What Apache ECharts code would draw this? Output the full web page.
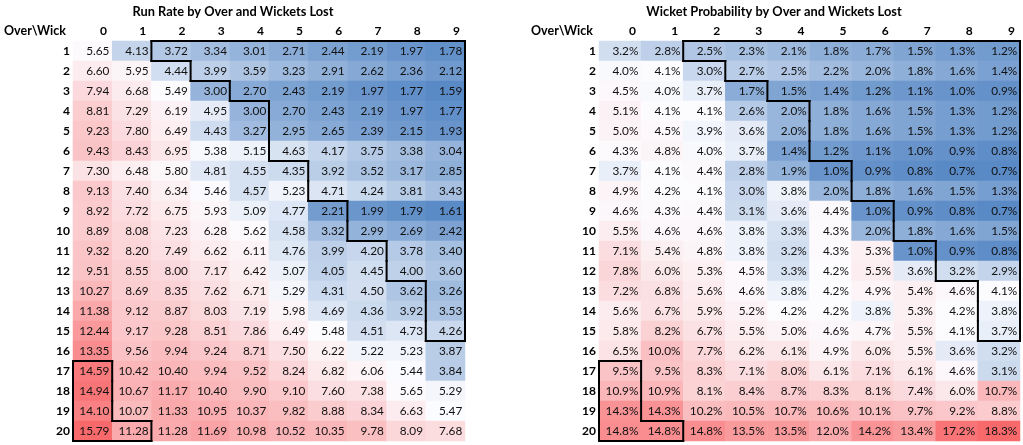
<!DOCTYPE html>
<html>
<head>
<meta charset="utf-8">
<script src="https://cdn.jsdelivr.net/npm/echarts@6/dist/echarts.min.js"></script>
<style>
html,body{margin:0;padding:0;background:#fff;}
#chart{width:1023px;height:445px;}
</style>
</head>
<body>
<div id="chart"></div>
<script>
const overs = ['1','2','3','4','5','6','7','8','9','10','11','12','13','14','15','16','17','18','19','20'];
const wickets = ['0','1','2','3','4','5','6','7','8','9'];

const runRate = [
  [5.65, 4.13, 3.72, 3.34, 3.01, 2.71, 2.44, 2.19, 1.97, 1.78],
  [6.60, 5.95, 4.44, 3.99, 3.59, 3.23, 2.91, 2.62, 2.36, 2.12],
  [7.94, 6.68, 5.49, 3.00, 2.70, 2.43, 2.19, 1.97, 1.77, 1.59],
  [8.81, 7.29, 6.19, 4.95, 3.00, 2.70, 2.43, 2.19, 1.97, 1.77],
  [9.23, 7.80, 6.49, 4.43, 3.27, 2.95, 2.65, 2.39, 2.15, 1.93],
  [9.43, 8.43, 6.95, 5.38, 5.15, 4.63, 4.17, 3.75, 3.38, 3.04],
  [7.30, 6.48, 5.80, 4.81, 4.55, 4.35, 3.92, 3.52, 3.17, 2.85],
  [9.13, 7.40, 6.34, 5.46, 4.57, 5.23, 4.71, 4.24, 3.81, 3.43],
  [8.92, 7.72, 6.75, 5.93, 5.09, 4.77, 2.21, 1.99, 1.79, 1.61],
  [8.89, 8.08, 7.23, 6.28, 5.62, 4.58, 3.32, 2.99, 2.69, 2.42],
  [9.32, 8.20, 7.49, 6.62, 6.11, 4.76, 3.99, 4.20, 3.78, 3.40],
  [9.51, 8.55, 8.00, 7.17, 6.42, 5.07, 4.05, 4.45, 4.00, 3.60],
  [10.27, 8.69, 8.35, 7.62, 6.71, 5.29, 4.31, 4.50, 3.62, 3.26],
  [11.38, 9.12, 8.87, 8.03, 7.19, 5.98, 4.69, 4.36, 3.92, 3.53],
  [12.44, 9.17, 9.28, 8.51, 7.86, 6.49, 5.48, 4.51, 4.73, 4.26],
  [13.35, 9.56, 9.94, 9.24, 8.71, 7.50, 6.22, 5.22, 5.23, 3.87],
  [14.59, 10.42, 10.40, 9.94, 9.52, 8.24, 6.82, 6.06, 5.44, 3.84],
  [14.94, 10.67, 11.17, 10.40, 9.90, 9.10, 7.60, 7.38, 5.65, 5.29],
  [14.10, 10.07, 11.33, 10.95, 10.37, 9.82, 8.88, 8.34, 6.63, 5.47],
  [15.79, 11.28, 11.28, 11.69, 10.98, 10.52, 10.35, 9.78, 8.09, 7.68]
];

const wicketProb = [
  [3.2, 2.8, 2.5, 2.3, 2.1, 1.8, 1.7, 1.5, 1.3, 1.2],
  [4.0, 4.1, 3.0, 2.7, 2.5, 2.2, 2.0, 1.8, 1.6, 1.4],
  [4.5, 4.0, 3.7, 1.7, 1.5, 1.4, 1.2, 1.1, 1.0, 0.9],
  [5.1, 4.1, 4.1, 2.6, 2.0, 1.8, 1.6, 1.5, 1.3, 1.2],
  [5.0, 4.5, 3.9, 3.6, 2.0, 1.8, 1.6, 1.5, 1.3, 1.2],
  [4.3, 4.8, 4.0, 3.7, 1.4, 1.2, 1.1, 1.0, 0.9, 0.8],
  [3.7, 4.1, 4.4, 2.8, 1.9, 1.0, 0.9, 0.8, 0.7, 0.7],
  [4.9, 4.2, 4.1, 3.0, 3.8, 2.0, 1.8, 1.6, 1.5, 1.3],
  [4.6, 4.3, 4.4, 3.1, 3.6, 4.4, 1.0, 0.9, 0.8, 0.7],
  [5.5, 4.6, 4.6, 3.8, 3.3, 4.3, 2.0, 1.8, 1.6, 1.5],
  [7.1, 5.4, 4.8, 3.8, 3.2, 4.3, 5.3, 1.0, 0.9, 0.8],
  [7.8, 6.0, 5.3, 4.5, 3.3, 4.2, 5.5, 3.6, 3.2, 2.9],
  [7.2, 6.8, 5.6, 4.6, 3.8, 4.2, 4.9, 5.4, 4.6, 4.1],
  [5.6, 6.7, 5.9, 5.2, 4.2, 4.2, 3.8, 5.3, 4.2, 3.8],
  [5.8, 8.2, 6.7, 5.5, 5.0, 4.6, 4.7, 5.5, 4.1, 3.7],
  [6.5, 10.0, 7.7, 6.2, 6.1, 4.9, 6.0, 5.5, 3.6, 3.2],
  [9.5, 9.5, 8.3, 7.1, 8.0, 6.1, 7.1, 6.1, 4.6, 3.1],
  [10.9, 10.9, 8.1, 8.4, 8.7, 8.3, 8.1, 7.4, 6.0, 10.7],
  [14.3, 14.3, 10.2, 10.5, 10.7, 10.6, 10.1, 9.7, 9.2, 8.8],
  [14.8, 14.8, 14.8, 13.5, 13.5, 12.0, 14.2, 13.4, 17.2, 18.3]
];

// Outlined block 1: for overs 1..15, first outlined wicket column (through 9)
const outlineStart = [2, 3, 4, 5, 5, 5, 6, 6, 7, 7, 8, 8, 9, 9, 9];
// Outlined block 2: [wicket index, over index]
const outlineCorner = [[0, 16], [0, 17], [0, 18], [0, 19], [1, 19]];

const FONT = 'Lato, "Open Sans", sans-serif';

function inRegion(x, y) {
  if (x < 0 || x > 9 || y < 0 || y > 19) return false;
  if (y < outlineStart.length && x >= outlineStart[y]) return true;
  return outlineCorner.some(c => c[0] === x && c[1] === y);
}

function outlineData() {
  const out = [];
  for (let y = 0; y < 20; y++) {
    for (let x = 0; x < 10; x++) {
      if (!inRegion(x, y)) continue;
      out.push([x, y,
        inRegion(x, y - 1) ? 0 : 1,
        inRegion(x + 1, y) ? 0 : 1,
        inRegion(x, y + 1) ? 0 : 1,
        inRegion(x - 1, y) ? 0 : 1]);
    }
  }
  return out;
}

function buildHeat(matrix) {
  const flat = [].concat(...matrix).slice().sort((a, b) => a - b);
  const mn = flat[0], mx = flat[flat.length - 1];
  const n = flat.length;
  const med = n % 2 ? flat[(n - 1) / 2] : (flat[n / 2 - 1] + flat[n / 2]) / 2;
  const data = [];
  matrix.forEach((row, i) => row.forEach((v, j) => {
    const t = v <= med ? 0.5 * (v - mn) / (med - mn) : 0.5 + 0.5 * (v - med) / (mx - med);
    data.push([j, i, v, t]);
  }));
  return data;
}

function renderOutline(params, api) {
  const c = api.coord([api.value(0), api.value(1)]);
  const s = api.size([1, 1]);
  const x0 = c[0] - s[0] / 2, x1 = c[0] + s[0] / 2;
  const y0 = c[1] - s[1] / 2, y1 = c[1] + s[1] / 2;
  const st = { stroke: '#000', lineWidth: 2, lineCap: 'square' };
  const ch = [];
  if (api.value(2)) ch.push({ type: 'line', shape: { x1: x0, y1: y0, x2: x1, y2: y0 }, style: st });
  if (api.value(3)) ch.push({ type: 'line', shape: { x1: x1, y1: y0, x2: x1, y2: y1 }, style: st });
  if (api.value(4)) ch.push({ type: 'line', shape: { x1: x0, y1: y1, x2: x1, y2: y1 }, style: st });
  if (api.value(5)) ch.push({ type: 'line', shape: { x1: x0, y1: y0, x2: x0, y2: y1 }, style: st });
  return { type: 'group', children: ch };
}

const grids = [
  { left: 73, right: 558, top: 41, bottom: 4 },
  { left: 599, right: 3, top: 41, bottom: 4 }
];

function xAxisFor(i, pad) {
  return {
    type: 'category', gridIndex: i, data: wickets, position: 'top',
    axisLine: { show: false }, axisTick: { show: false }, splitLine: { show: false },
    axisLabel: { fontFamily: FONT, fontWeight: 'bold', fontSize: 12, color: '#000', margin: 4, padding: [0, 0, 0, pad] }
  };
}
function yAxisFor(i) {
  return {
    type: 'category', gridIndex: i, data: overs, inverse: true,
    axisLine: { show: false }, axisTick: { show: false }, splitLine: { show: false },
    axisLabel: { fontFamily: FONT, fontWeight: 'bold', fontSize: 12, color: '#000', margin: 3 }
  };
}

const colors = ['#5A8AC6', '#FCFCFF', '#F8696B'];

const option = {
  animation: false,
  backgroundColor: '#fff',
  grid: grids,
  xAxis: [xAxisFor(0, 22), xAxisFor(1, 25)],
  yAxis: [yAxisFor(0), yAxisFor(1)],
  visualMap: [
    { show: false, type: 'continuous', seriesIndex: 0, dimension: 3, min: 0, max: 1, inRange: { color: colors } },
    { show: false, type: 'continuous', seriesIndex: 1, dimension: 3, min: 0, max: 1, inRange: { color: colors } }
  ],
  graphic: [
    { type: 'text', x: 233, y: 12, style: { text: 'Run Rate by Over and Wickets Lost', font: 'bold 12.8px ' + FONT, fill: '#000', align: 'center', verticalAlign: 'middle' } },
    { type: 'text', x: 774, y: 12, style: { text: 'Wicket Probability by Over and Wickets Lost', font: 'bold 12.8px ' + FONT, fill: '#000', align: 'center', verticalAlign: 'middle' } },
    { type: 'text', x: 4, y: 31, style: { text: 'Over\\Wick', font: 'bold 12.5px ' + FONT, fill: '#000', align: 'left', verticalAlign: 'middle' } },
    { type: 'text', x: 531, y: 31, style: { text: 'Over\\Wick', font: 'bold 12.5px ' + FONT, fill: '#000', align: 'left', verticalAlign: 'middle' } }
  ],
  series: [
    {
      type: 'heatmap', xAxisIndex: 0, yAxisIndex: 0, data: buildHeat(runRate),
      encode: { x: 0, y: 1, value: 2 },
      label: { show: true, position: 'insideRight', distance: 3, fontFamily: FONT, fontSize: 11.8, color: '#111',
        formatter: p => p.value[2].toFixed(2) },
      itemStyle: { borderWidth: 0 },
      emphasis: { disabled: true }
    },
    {
      type: 'heatmap', xAxisIndex: 1, yAxisIndex: 1, data: buildHeat(wicketProb),
      encode: { x: 0, y: 1, value: 2 },
      label: { show: true, position: 'insideRight', distance: 3, fontFamily: FONT, fontSize: 11.8, color: '#111',
        formatter: p => p.value[2].toFixed(1) + '%' },
      itemStyle: { borderWidth: 0 },
      emphasis: { disabled: true }
    },
    { type: 'custom', xAxisIndex: 0, yAxisIndex: 0, z: 5, renderItem: renderOutline, data: outlineData(), silent: true },
    { type: 'custom', xAxisIndex: 1, yAxisIndex: 1, z: 5, renderItem: renderOutline, data: outlineData(), silent: true }
  ]
};

const chart = echarts.init(document.getElementById('chart'), null, { renderer: 'canvas' });
chart.setOption(option);
</script>
</body>
</html>
